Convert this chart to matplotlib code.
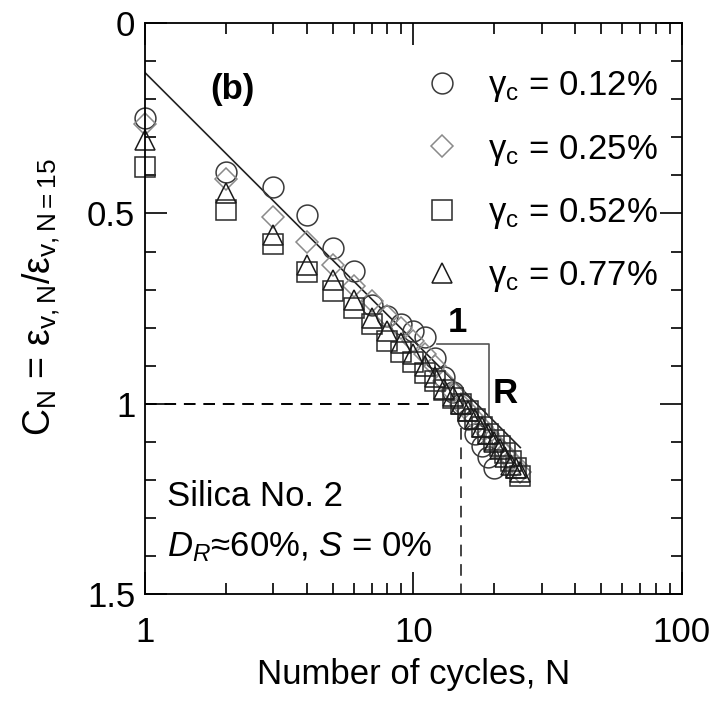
import numpy as np
import matplotlib
matplotlib.use("Agg")
from matplotlib import pyplot as plt
from matplotlib.ticker import MultipleLocator, LogLocator, NullFormatter, FixedLocator, FixedFormatter

plt.rcParams['font.family'] = ['Liberation Sans', 'DejaVu Sans']
plt.rcParams['mathtext.fontset'] = 'custom'
plt.rcParams['mathtext.rm'] = 'Liberation Sans'
plt.rcParams['mathtext.it'] = 'Liberation Sans:italic'
plt.rcParams['mathtext.bf'] = 'Liberation Sans:bold'

# normalised settlement C_N = eps_v,N / eps_v,N=15 for each cyclic strain level
n_012 = list(range(1, 21))
c_012 = [0.25, 0.39, 0.43, 0.505, 0.59, 0.65, 0.74, 0.77, 0.79, 0.81,
         0.825, 0.88, 0.93, 0.97, 1.00, 1.04, 1.08, 1.11, 1.14, 1.17]

n_025 = list(range(1, 26))
c_025 = [0.265, 0.41, 0.51, 0.575, 0.635, 0.69, 0.73, 0.77, 0.80, 0.835,
         0.87, 0.90, 0.94, 0.97, 1.00, 1.02, 1.04, 1.06, 1.08, 1.10,
         1.12, 1.13, 1.15, 1.16, 1.18]

n_052 = list(range(1, 26))
c_052 = [0.378, 0.49, 0.58, 0.655, 0.703, 0.748, 0.79, 0.835, 0.865, 0.89,
         0.92, 0.94, 0.965, 0.985, 1.00, 1.02, 1.04, 1.06, 1.08, 1.095,
         1.11, 1.13, 1.15, 1.17, 1.19]

n_077 = list(range(1, 26))
c_077 = [0.307, 0.446, 0.556, 0.635, 0.675, 0.727, 0.775, 0.81, 0.84, 0.87,
         0.90, 0.93, 0.96, 0.98, 1.00, 1.02, 1.04, 1.06, 1.08, 1.10,
         1.12, 1.14, 1.16, 1.17, 1.18]

# fitted trend (straight in semi-log) and slope triangle
fit_n = [1, 25]
fit_c = [0.13, 1.115]
slope_n = [12.2, 19.1, 19.1]
slope_c = [0.843, 0.843, 1.034]

fig = plt.figure(figsize=(7.13, 7.03), dpi=100)
ax = fig.add_axes([0.2034, 0.155, 0.753, 0.812])

"""reference lines at N = 15, C_N = 1"""
ax.plot([1, 11.5], [1, 1], color='k', lw=1.4, dashes=(6, 4))
ax.plot([15, 15], [1.063, 1.5], color='#444444', lw=1.4, dashes=(6, 4))

ax.plot(fit_n, fit_c, color='#222222', lw=1.2)
ax.plot(slope_n, slope_c, color='#555555', lw=1.2)

"""data"""
mkw = dict(ls='none', mfc='none', mew=1.1, clip_on=False)
ax.plot(n_012, c_012, marker='o', ms=15, mec='#3a3a3a', label=r'γ$_\mathregular{c}$ = 0.12%', **mkw)
ax.plot(n_025, c_025, marker='D', ms=11, mec='#8a8a8a', label=r'γ$_\mathregular{c}$ = 0.25%', **mkw)
ax.plot(n_052, c_052, marker='s', ms=15, mec='#2a2a2a', label=r'γ$_\mathregular{c}$ = 0.52%', **mkw)
ax.plot(n_077, c_077, marker='^', ms=15, mec='#1a1a1a', label=r'γ$_\mathregular{c}$ = 0.77%', **mkw)

ax.set_xscale('log')
ax.set_xlim(1, 100)
ax.set_ylim(1.5, 0)
ax.yaxis.set_major_locator(FixedLocator([0, 0.5, 1, 1.5]))
ax.yaxis.set_major_formatter(FixedFormatter(['0', '0.5', '1', '1.5']))
ax.yaxis.set_minor_locator(MultipleLocator(0.1))
ax.xaxis.set_major_locator(FixedLocator([1, 10, 100]))
ax.xaxis.set_major_formatter(FixedFormatter(['1', '10', '100']))
ax.xaxis.set_minor_locator(LogLocator(base=10, subs=np.arange(2, 10)))
ax.xaxis.set_minor_formatter(NullFormatter())

ax.tick_params(which='both', direction='in', top=True, right=True, width=1.2, labelsize=25)
ax.tick_params(which='major', length=16)
ax.tick_params(which='minor', length=8)
ax.tick_params(axis='x', which='major', pad=16)
ax.tick_params(axis='y', which='major', pad=7)
for s in ax.spines.values():
    s.set_linewidth(1.3)

ax.set_xlabel('Number of cycles, N', fontsize=25, labelpad=6)
ax.set_ylabel(r'C$_\mathregular{N}$ = ε$_\mathregular{v,N}$/ε$_\mathregular{v,N=15}$', fontsize=27)
ax.yaxis.set_label_coords(-0.155, 0.52)

ax.text(0.162, 0.883, '(b)', transform=ax.transAxes, fontsize=25, fontweight='bold', ha='center', va='center')
ax.text(0.581, 0.476, '1', transform=ax.transAxes, fontsize=25, fontweight='bold', ha='center', va='center')
ax.text(0.670, 0.352, 'R', transform=ax.transAxes, fontsize=25, fontweight='bold', ha='center', va='center')
ax.text(0.041, 0.170, 'Silica No. 2', transform=ax.transAxes, fontsize=25, ha='left', va='center')
ax.text(0.041, 0.082, r'$\mathit{D}_\mathit{R}$≈60%, $\mathit{S}$ = 0%', transform=ax.transAxes,
        fontsize=25, ha='left', va='center')

ax.legend(loc='upper left', bbox_to_anchor=(0.52, 0.919), frameon=False, fontsize=25,
          handlelength=1.0, handletextpad=0.85, labelspacing=0.81, borderpad=0, borderaxespad=0)

fig.savefig('out.png', dpi=100)
